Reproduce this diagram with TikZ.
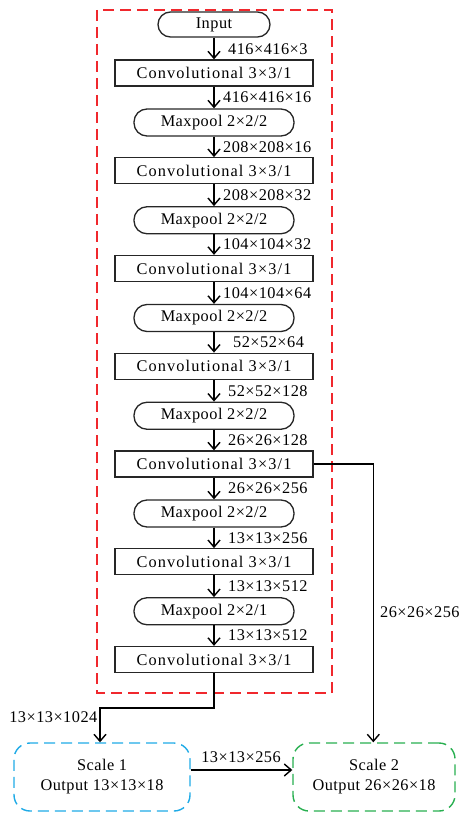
\documentclass[tikz,border=0pt]{standalone}
\usepackage{fontspec}
\setmainfont{Liberation Serif}[LetterSpace=3]
\newfontfamily\convfont{Liberation Serif}[LetterSpace=7]
\usetikzlibrary{arrows.meta}
\definecolor{redbox}{RGB}{240,40,45}
\definecolor{bluebox}{RGB}{30,170,230}
\definecolor{greenbox}{RGB}{40,175,80}
\begin{document}
\begin{tikzpicture}[x=1pt,y=-1pt,
  font=\fontsize{16.3}{18}\selectfont,
  conv/.style={draw=black!85, line width=1.3pt, minimum width=198pt, minimum height=26pt, inner sep=0pt,
    font=\fontsize{16.3}{18}\convfont},
  pool/.style={draw=black!85, line width=1.3pt, rounded corners=13pt, minimum width=160pt, minimum height=27pt, inner sep=0pt},
  lbl/.style={anchor=west, inner sep=0pt},
  conn/.style={line width=1.4pt, -{Straight Barb[length=7pt,width=12pt]}},
  scalebox/.style={draw, line width=1.4pt, dash pattern=on 11pt off 6pt, rounded corners=16pt,
    minimum height=68pt, inner sep=0pt, align=center, font=\fontsize{16.3}{20}\selectfont}
  ]
\useasboundingbox (0,0) rectangle (462,818);
% red dashed frame
\draw[redbox, line width=1.4pt, dash pattern=on 11pt off 6pt] (97,10) rectangle (332,693);

\node[pool, minimum width=112pt, minimum height=25pt, rounded corners=12.5pt] (in) at (214,24.5) {Input};
\foreach \i in {1,...,7}{
  \node[conv] (c\i) at (214,{73+(\i-1)*97.75}) {Convolutional 3×3/1};
}
\foreach \i/\s in {1/2,2/2,3/2,4/2,5/2,6/1}{
  \node[pool] (p\i) at (214,{122.5+(\i-1)*97.75}) {Maxpool 2×2/\s};
}
% connectors
\draw[conn] (in) -- (c1);
\foreach \i/\j in {1/2,2/3,3/4,4/5,5/6,6/7}{
  \draw[conn] (c\i) -- (p\i);
  \draw[conn] (p\i) -- (c\j);
}
% size labels
\node[lbl] (l0) at (228,49) {416×416×3};
\foreach \i/\a/\ax/\b/\bx in {1/416×416×16/223/208×208×16/223,
                              2/208×208×32/223/104×104×32/223,
                              3/104×104×64/223/52×52×64/233,
                              4/52×52×128/228/26×26×128/228,
                              5/26×26×256/228/13×13×256/228,
                              6/13×13×512/228/13×13×512/228}{
  \node[lbl] (la\i) at (\ax,{97.5+(\i-1)*97.75}) {\a};
  \node[lbl] (lb\i) at (\bx,{146.9+(\i-1)*97.75}) {\b};
}
% outputs
\node[scalebox, draw=bluebox, minimum width=176pt] (s1) at (102,777) {Scale 1\\Output 13×13×18};
\node[scalebox, draw=greenbox, minimum width=162pt] (s2) at (374,777) {Scale 2\\Output 26×26×18};

\coordinate (k2) at (100,708);
\draw[conn] (c7.south) |- (k2) -- (k2 |- s1.north);
\node[anchor=east, inner sep=0pt] (l1024) at (97.5,717) {13×13×1024};

\coordinate (k3) at (373.3,464);
\draw[conn] (c5.east) -- (k3) -- (k3 |- s2.north);
\node[lbl] (l26) at (380,612) {26×26×256};

\draw[conn] ([yshift=7pt]s1.east) -- ([yshift=7pt]s2.west);
\node[inner sep=0pt] (l13) at (241,757.5) {13×13×256};
\end{tikzpicture}
\end{document}
